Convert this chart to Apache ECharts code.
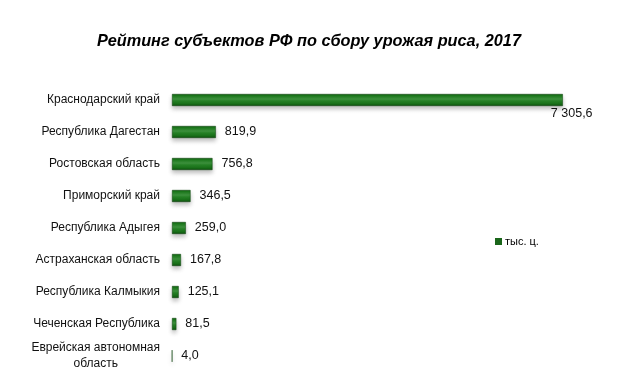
<!DOCTYPE html>
<html>
<head>
<meta charset="utf-8">
<script src="https://cdn.jsdelivr.net/npm/echarts@6/dist/echarts.min.js"></script>
<style>
html,body{margin:0;padding:0;background:#fff;}
#chart{width:626px;height:392px;}
</style>
</head>
<body>
<div id="chart"></div>
<script>
const categories = [
  'Краснодарский край',
  'Республика Дагестан',
  'Ростовская область',
  'Приморский край',
  'Республика Адыгея',
  'Астраханская область',
  'Республика Калмыкия',
  'Чеченская Республика',
  'Еврейская автономная\nобласть'
];
const values = [7305.6, 819.9, 756.8, 346.5, 259.0, 167.8, 125.1, 81.5, 4.0];
const seriesName = 'тыс. ц.';
const titleText = 'Рейтинг субъектов РФ по сбору урожая риса, 2017';

function fmt(v) {
  let s = v.toFixed(1).replace('.', ',');
  let parts = s.split(',');
  parts[0] = parts[0].replace(/\B(?=(\d{3})+(?!\d))/g, ' ');
  return parts.join(',');
}

const barGrad = new echarts.graphic.LinearGradient(0, 0, 0, 1, [
  {offset: 0, color: '#0f5c0f'},
  {offset: 0.15, color: '#1d7b1d'},
  {offset: 0.42, color: '#3e923e'},
  {offset: 0.58, color: '#268226'},
  {offset: 0.85, color: '#176c17'},
  {offset: 1, color: '#0b470b'}
]);

const data = values.map((v, i) => {
  const item = {value: v};
  if (i === 0) {
    item.label = {position: 'right', distance: 5, offset: [-17, 14]};
  }
  return item;
});

const fontFam = 'Liberation Sans, Arial, sans-serif';
const chart = echarts.init(document.getElementById('chart'));
chart.setOption({
  backgroundColor: '#ffffff',
  animation: false,
  title: {
    text: titleText,
    left: 304,
    textAlign: 'center',
    top: 29,
    textStyle: {
      fontFamily: fontFam,
      fontStyle: 'italic',
      fontWeight: 'bold',
      fontSize: 16.3,
      color: '#000'
    }
  },
  legend: {
    data: [{name: seriesName, itemStyle: {color: '#1a661a', borderWidth: 0}}],
    left: 490,
    top: 231,
    orient: 'vertical',
    itemWidth: 7,
    itemHeight: 7,
    itemGap: 4,
    icon: 'rect',
    textStyle: {fontFamily: fontFam, fontSize: 11, color: '#000', padding: [0,0,0,-2]}
  },
  grid: {left: 172, top: 84, width: 428, height: 288, containLabel: false},
  xAxis: {
    type: 'value',
    min: 0,
    max: 8000,
    show: false
  },
  yAxis: {
    type: 'category',
    data: categories,
    inverse: true,
    axisLine: {show: false},
    axisTick: {show: false},
    splitLine: {show: false},
    axisLabel: {
      margin: 12,
      fontFamily: fontFam,
      fontSize: 12,
      color: '#111',
      formatter: function (v) {
        if (v.indexOf('\n') >= 0) {
          return v.split('\n').map(s => '{c|' + s + '}').join('\n');
        }
        return v;
      },
      rich: {c: {align: 'center', fontSize: 12, color: '#111', fontFamily: fontFam, lineHeight: 16}}
    }
  },
  series: [{
    name: seriesName,
    type: 'bar',
    data: data,
    barWidth: 12,
    itemStyle: {
      color: barGrad,
      borderColor: '#0c420c',
      borderWidth: 0.5,
      shadowColor: 'rgba(0,0,0,0.25)',
      shadowBlur: 4,
      shadowOffsetY: 3
    },
    label: {
      show: true,
      position: 'right',
      distance: 9,
      fontFamily: fontFam,
      fontSize: 12.5,
      color: '#111',
      formatter: p => fmt(p.value)
    }
  }]
});
</script>
</body>
</html>
